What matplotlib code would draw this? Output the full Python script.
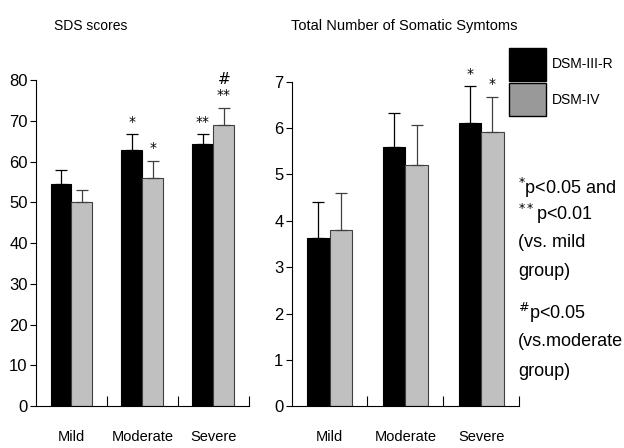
import matplotlib
matplotlib.use("Agg")
import matplotlib.pyplot as plt
from matplotlib.patches import Patch
import numpy as np

plt.rcParams['font.family'] = ['Liberation Sans', 'DejaVu Sans']

groups = ["Mild", "Moderate", "Severe"]
series = ["DSM-III-R", "DSM-IV"]

# SDS scores: mean and upper error (SD)
sds_dsm3 = [54.5, 62.8, 64.3]
sds_dsm3_err = [3.5, 3.9, 2.4]
sds_dsm4 = [50.1, 55.9, 68.9]
sds_dsm4_err = [2.9, 4.3, 4.3]
sds_marks3 = ["", "*", "**"]
sds_marks4 = ["", "*", "**"]
sds_extra4 = ["", "", "#"]

# total number of somatic symptoms
som_dsm3 = [3.62, 5.60, 6.11]
som_dsm3_err = [0.79, 0.72, 0.79]
som_dsm4 = [3.81, 5.21, 5.91]
som_dsm4_err = [0.80, 0.85, 0.77]
som_marks3 = ["", "", "*"]
som_marks4 = ["", "", "*"]

black = "#000000"
gray = "#c0c0c0"
legend_gray = "#999999"

fig = plt.figure(figsize=(6.24, 4.48), dpi=100)
ax1 = fig.add_axes([0.0577, 0.0937, 0.341, 0.7277])
ax2 = fig.add_axes([0.4675, 0.0931, 0.3643, 0.7246])

w = 0.295
x = np.arange(3) + 0.5


def draw(ax, v3, e3, v4, e4, ymax, yticks):
    ax.bar(x - w / 2, v3, w, color=black, edgecolor=black, linewidth=0.8)
    ax.bar(x + w / 2, v4, w, color=gray, edgecolor="#404040", linewidth=0.8)
    ax.errorbar(x - w / 2, v3, yerr=[np.zeros(3), e3], fmt="none",
                ecolor=black, elinewidth=0.9, capsize=4, capthick=0.9)
    ax.errorbar(x + w / 2, v4, yerr=[np.zeros(3), e4], fmt="none",
                ecolor="#404040", elinewidth=0.9, capsize=4, capthick=0.9)
    ax.set_xlim(0, 3)
    ax.set_ylim(0, ymax)
    ax.set_yticks(yticks)
    ax.set_yticklabels([str(t) for t in yticks], fontsize=12)
    ax.set_xticks([1, 2, 3])
    ax.set_xticklabels([])
    ax.set_xticks(x, minor=True)
    ax.set_xticklabels(groups, minor=True, fontsize=10.5)
    ax.tick_params(axis="x", which="major", direction="in", length=7, width=0.8)
    ax.tick_params(axis="x", which="minor", length=0, pad=17)
    ax.tick_params(axis="y", direction="out", length=4, width=0.8, pad=2)
    for s in ["top", "right"]:
        ax.spines[s].set_visible(False)
    for s in ["left", "bottom"]:
        ax.spines[s].set_linewidth(0.8)


def mark(ax, xs, tops, labels, off=4, size=10):
    for xi, t, lab in zip(xs, tops, labels):
        if lab:
            ax.annotate(lab, (xi, t), xytext=(0, off), textcoords="offset points",
                        ha="center", va="bottom", fontsize=size, family="DejaVu Sans")


draw(ax1, sds_dsm3, sds_dsm3_err, sds_dsm4, sds_dsm4_err, 80,
     [0, 10, 20, 30, 40, 50, 60, 70, 80])
draw(ax2, som_dsm3, som_dsm3_err, som_dsm4, som_dsm4_err, 7,
     [0, 1, 2, 3, 4, 5, 6, 7])

tops3 = np.array(sds_dsm3) + np.array(sds_dsm3_err)
tops4 = np.array(sds_dsm4) + np.array(sds_dsm4_err)
mark(ax1, x - w / 2, tops3, sds_marks3)
mark(ax1, x + w / 2, tops4, sds_marks4)
mark(ax1, x + w / 2, tops4, sds_extra4, off=15, size=11)

stops3 = np.array(som_dsm3) + np.array(som_dsm3_err)
stops4 = np.array(som_dsm4) + np.array(som_dsm4_err)
mark(ax2, x - w / 2, stops3, som_marks3)
mark(ax2, x + w / 2, stops4, som_marks4)

fig.text(0.087, 0.942, "SDS scores", fontsize=10, ha="left", va="center")
fig.text(0.466, 0.942, "Total Number of Somatic Symtoms", fontsize=10.5, ha="left", va="center")

handles = [Patch(facecolor=black, edgecolor=black),
           Patch(facecolor=legend_gray, edgecolor=black)]
fig.legend(handles, series, loc="upper left",
           bbox_to_anchor=(0.815, 0.893), frameon=False,
           handlelength=2.7, handleheight=3.3, handletextpad=0.45,
           labelspacing=0.15, borderpad=0, borderaxespad=0,
           prop={'size': 10})

notes = [
    (0.83, 0.58, r"$^{*}$p<0.05 and"),
    (0.83, 0.523, r"$^{**}$p<0.01"),
    (0.83, 0.458, "(vs. mild"),
    (0.83, 0.393, "group)"),
    (0.83, 0.302, r"$^{\#}$p<0.05"),
    (0.83, 0.237, "(vs.moderate"),
    (0.83, 0.17, "group)"),
]
for nx, ny, t in notes:
    fig.text(nx, ny, t, fontsize=13, ha="left", va="center")

fig.savefig("out.png", dpi=100)
